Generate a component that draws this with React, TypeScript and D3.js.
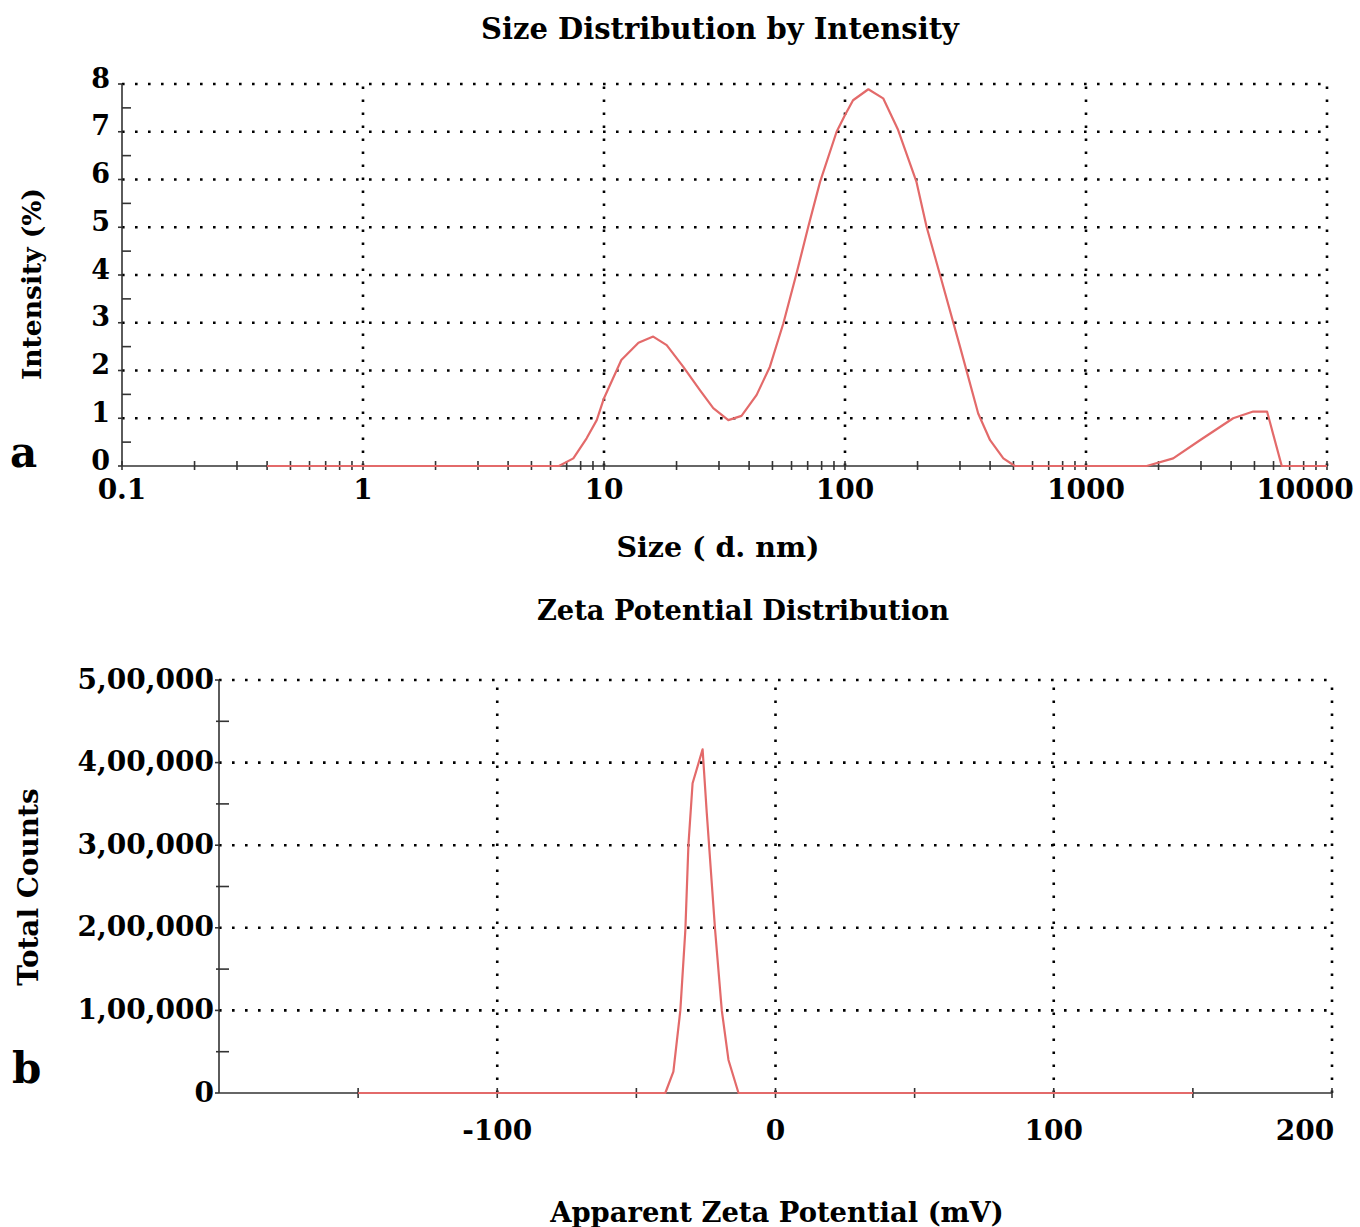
import React from "react";
import * as d3 from "d3";

// Size distribution by intensity (DLS)
const sizeNm = [0.4, 1, 3, 6.5, 7.46, 8.47, 9.33, 10, 11.8, 13.9, 16.0, 18.2, 21.3, 25, 28.4, 32.8, 37.2, 43, 48.8, 55.5, 63, 70.4, 78.8, 92.3, 100, 108, 125, 144, 166, 198, 218, 248, 300, 357, 400, 454, 507, 1000, 1786, 2300, 2970, 4080, 4940, 5640, 6490, 8000, 10000];
const intensityPct = [0, 0, 0, 0, 0.16, 0.58, 0.96, 1.42, 2.22, 2.58, 2.71, 2.53, 2.08, 1.59, 1.21, 0.96, 1.05, 1.49, 2.08, 2.99, 4.04, 5.01, 5.95, 7.0, 7.35, 7.66, 7.89, 7.7, 7.04, 5.95, 5.01, 4.0, 2.5, 1.1, 0.54, 0.16, 0, 0, 0, 0.16, 0.54, 1.0, 1.14, 1.14, 0, 0, 0];

// Zeta potential distribution
const zetaMv = [-150, -100, -50, -39.6, -36.7, -34.2, -32.4, -31.3, -29.8, -26.2, -24.7, -21.7, -19.3, -16.9, -13.3, 0, 50, 100, 150];
const totalCounts = [0, 0, 0, 0, 25800, 100000, 197000, 300000, 375000, 416000, 339000, 197000, 100000, 40000, 0, 0, 0, 0, 0];

const sizeTicks = [0.1, 1, 10, 100, 1000, 10000];
const sizeTickLabels = ["0.1", "1", "10", "100", "1000", "10000"];
const intensityTicks = [0, 1, 2, 3, 4, 5, 6, 7, 8];
const countTicks = [0, 100000, 200000, 300000, 400000, 500000];
const countTickLabels = ["0", "1,00,000", "2,00,000", "3,00,000", "4,00,000", "5,00,000"];
const zetaTicks = [-100, 0, 100, 200];
const zetaTickLabels = ["-100", "0", "100", "200"];

const FONT = "'DejaVu Serif', serif";
const RED = "#e36a6a";
const AXIS = "#333";
const DOT = "2.6 10.4";

export default function App() {
  const W = 1360;
  const H = 1227;

  // ---- top panel scales ----
  const xs = d3.scaleLog().domain([0.1, 10000]).range([122, 1327]);
  const ys = d3.scaleLinear().domain([0, 8]).range([466, 84]);
  const sizeLine = d3
    .line<number>()
    .x((_, i) => xs(sizeNm[i]))
    .y((d) => ys(d));

  const minorLog: number[] = [];
  for (let p = -1; p < 4; p++) {
    for (let k = 2; k <= 9; k++) minorLog.push(k * Math.pow(10, p));
  }
  const halfSteps = d3.range(0.5, 8, 1);

  // ---- bottom panel scales ----
  const xz = d3.scaleLinear().domain([-200, 200]).range([219, 1332]);
  const yz = d3.scaleLinear().domain([0, 500000]).range([1093, 680]);
  const zetaLine = d3
    .line<number>()
    .x((_, i) => xz(zetaMv[i]))
    .y((d) => yz(d));
  const zetaMinor = d3.range(-150, 201, 50);
  const countHalf = d3.range(50000, 500000, 100000);

  const [x0, x1] = xs.range();
  const [zx0, zx1] = xz.range();

  return (
    <svg
      width={W}
      height={H}
      viewBox={`0 0 ${W} ${H}`}
      style={{ position: "absolute", left: 0, top: 0, background: "#fff" }}
      fontFamily={FONT}
      fontWeight="bold"
    >
      <rect x={0} y={0} width={W} height={H} fill="#fff" />

      {/* ================= Size distribution ================= */}
      <text x={720} y={39} textAnchor="middle" fontSize={29}>
        Size Distribution by Intensity
      </text>

      {/* grid */}
      {intensityTicks.slice(1).map((t) => (
        <line key={"hg" + t} x1={x0} x2={x1} y1={ys(t)} y2={ys(t)} stroke="#000" strokeWidth={2.6} strokeDasharray={DOT} />
      ))}
      {sizeTicks.slice(1).map((t) => (
        <line key={"vg" + t} x1={xs(t)} x2={xs(t)} y1={ys(0)} y2={ys(8)} stroke="#000" strokeWidth={2.6} strokeDasharray={DOT} />
      ))}

      {/* axes */}
      <line x1={x0} x2={x1} y1={ys(0)} y2={ys(0)} stroke={AXIS} strokeWidth={1.6} />
      <line x1={x0} x2={x0} y1={ys(0)} y2={ys(8)} stroke={AXIS} strokeWidth={1.6} />
      {sizeTicks.concat(minorLog).map((t) => (
        <line key={"xt" + t} x1={xs(t)} x2={xs(t)} y1={ys(0) - 5} y2={ys(0) + 4} stroke={AXIS} strokeWidth={1.6} />
      ))}
      {halfSteps.map((t) => (
        <line key={"ym" + t} x1={x0} x2={x0 + 9} y1={ys(t)} y2={ys(t)} stroke={AXIS} strokeWidth={1.6} />
      ))}
      {intensityTicks.map((t) => (
        <line key={"yM" + t} x1={x0 - 4} x2={x0} y1={ys(t)} y2={ys(t)} stroke={AXIS} strokeWidth={1.6} />
      ))}

      {/* data */}
      <path d={sizeLine(intensityPct) || ""} fill="none" stroke={RED} strokeWidth={2.2} strokeLinejoin="round" />

      {/* tick labels */}
      {intensityTicks.map((t) => (
        <text key={"yl" + t} x={x0 - 12} y={ys(t) - 4} textAnchor="end" dominantBaseline="middle" fontSize={27}>
          {t}
        </text>
      ))}
      {sizeTicks.map((t, i) => (
        <text key={"xl" + t} x={Math.min(xs(t), 1305)} y={499} textAnchor="middle" fontSize={28}>
          {sizeTickLabels[i]}
        </text>
      ))}
      <text x={718} y={557} textAnchor="middle" fontSize={28.5}>
        Size ( d. nm)
      </text>
      <text transform={`translate(41,284) rotate(-90)`} textAnchor="middle" fontSize={26.5}>
        Intensity (%)
      </text>
      <text x={10} y={467} fontSize={42}>
        a
      </text>

      {/* ================= Zeta potential ================= */}
      <text x={743} y={620} textAnchor="middle" fontSize={27.3}>
        Zeta Potential Distribution
      </text>

      {countTicks.slice(1).map((t) => (
        <line key={"zh" + t} x1={zx0} x2={zx1} y1={yz(t)} y2={yz(t)} stroke="#000" strokeWidth={2.6} strokeDasharray={DOT} />
      ))}
      {zetaTicks.map((t) => (
        <line key={"zv" + t} x1={xz(t)} x2={xz(t)} y1={yz(0)} y2={yz(500000)} stroke="#000" strokeWidth={2.6} strokeDasharray={DOT} />
      ))}

      <line x1={zx0} x2={zx1} y1={yz(0)} y2={yz(0)} stroke={AXIS} strokeWidth={1.6} />
      <line x1={zx0} x2={zx0} y1={yz(0)} y2={yz(500000)} stroke={AXIS} strokeWidth={1.6} />
      {zetaMinor.map((t) => (
        <line key={"zt" + t} x1={xz(t)} x2={xz(t)} y1={yz(0) - 5} y2={yz(0) + 5} stroke={AXIS} strokeWidth={1.6} />
      ))}
      {countHalf.map((t) => (
        <line key={"cm" + t} x1={zx0 - 3} x2={zx0 + 10} y1={yz(t)} y2={yz(t)} stroke={AXIS} strokeWidth={1.6} />
      ))}
      {countTicks.map((t) => (
        <line key={"cM" + t} x1={zx0 - 4} x2={zx0} y1={yz(t)} y2={yz(t)} stroke={AXIS} strokeWidth={1.6} />
      ))}

      <path d={zetaLine(totalCounts) || ""} fill="none" stroke={RED} strokeWidth={2.2} strokeLinejoin="round" />

      {countTicks.map((t, i) => (
        <text key={"cl" + t} x={zx0 - 5} y={yz(t) + 1} textAnchor="end" dominantBaseline="middle" fontSize={28}>
          {countTickLabels[i]}
        </text>
      ))}
      {zetaTicks.map((t, i) => (
        <text key={"zl" + t} x={Math.min(xz(t), 1305)} y={1140} textAnchor="middle" fontSize={28}>
          {zetaTickLabels[i]}
        </text>
      ))}
      <text x={777} y={1222} textAnchor="middle" fontSize={27.4}>
        Apparent Zeta Potential (mV)
      </text>
      <text transform={`translate(38,887) rotate(-90)`} textAnchor="middle" fontSize={27.9}>
        Total Counts
      </text>
      <text x={12} y={1083} fontSize={42}>
        b
      </text>
    </svg>
  );
}
